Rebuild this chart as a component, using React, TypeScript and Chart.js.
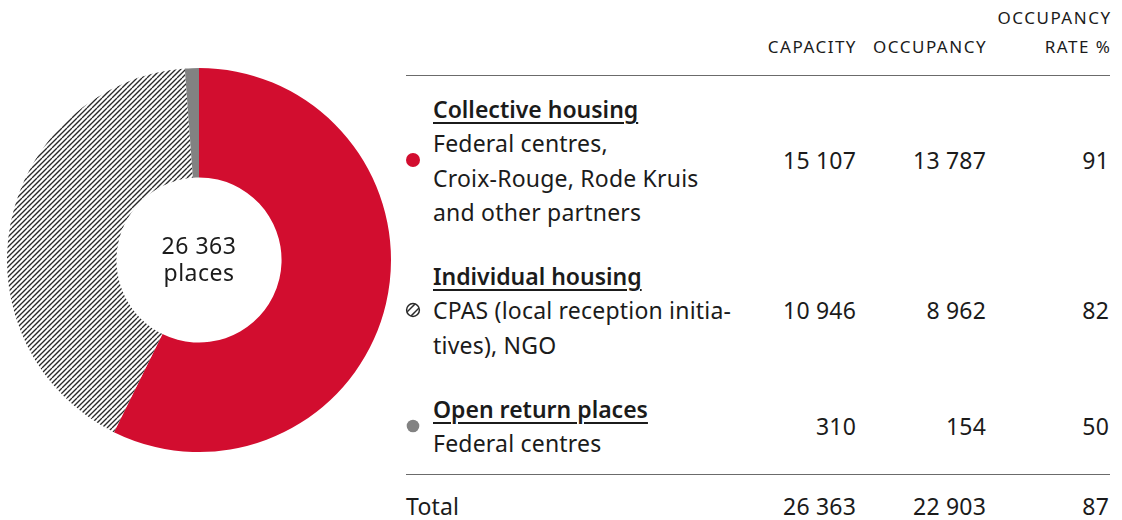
import React, { useEffect, useRef } from "react";
import { Chart, registerables } from "chart.js";

Chart.register(...registerables);

const categories = ["Collective housing", "Individual housing", "Open return places"];
const descriptions = [
  ["Federal centres,", "Croix-Rouge, Rode Kruis", "and other partners"],
  ["CPAS (local reception initia-", "tives), NGO"],
  ["Federal centres"],
];
const capacity = [15107, 10946, 310];
const occupancy = [13787, 8962, 154];
const occupancyRate = [91, 82, 50];
const totalLabel = "Total";
const totalCapacity = 26363;
const totalOccupancy = 22903;
const totalRate = 87;
const headerCapacity = ["CAPACITY"];
const headerOccupancy = ["OCCUPANCY"];
const headerRate = ["OCCUPANCY", "RATE %"];
const centerLabel = ["26 363", "places"];

const RED = "#D20D2F";
const GREY = "#828282";
const TEXT = "#1b1b1b";
const FONT = "'Noto Sans', Lato, sans-serif";

const fmt = (n: number) => String(n).replace(/\B(?=(\d{3})+(?!\d))/g, " ");

function makeHatch(): CanvasPattern | string {
  const c = document.createElement("canvas");
  c.width = 10;
  c.height = 10;
  const g = c.getContext("2d");
  if (!g) return "#888";
  g.fillStyle = "#ffffff";
  g.fillRect(0, 0, 10, 10);
  g.strokeStyle = "#2a2a2a";
  g.lineWidth = 1.3;
  for (let o = -15; o <= 20; o += 5) {
    g.beginPath();
    g.moveTo(o, 10);
    g.lineTo(o + 10, 0);
    g.stroke();
  }
  const p = g.createPattern(c, "repeat");
  return p || "#888";
}

const LINE = 34.3;
const titleY = [109, 276, 409];

const abs = (x: number, y: number, extra: React.CSSProperties = {}): React.CSSProperties => ({
  position: "absolute",
  left: x,
  top: y - 15,
  height: 30,
  lineHeight: "30px",
  whiteSpace: "nowrap",
  ...extra,
});

const rightAt = (xRight: number, y: number, extra: React.CSSProperties = {}): React.CSSProperties => ({
  position: "absolute",
  right: 1122 - xRight,
  top: y - 15,
  height: 30,
  lineHeight: "30px",
  whiteSpace: "nowrap",
  textAlign: "right",
  ...extra,
});

function Bullet({ kind, y }: { kind: number; y: number }) {
  const size = 16;
  const style: React.CSSProperties = { position: "absolute", left: 413 - size / 2, top: y - size / 2, width: size, height: size };
  if (kind === 0) {
    return (
      <svg style={style} width={size} height={size}>
        <circle cx={8} cy={8} r={7} fill={RED} />
      </svg>
    );
  }
  if (kind === 2) {
    return (
      <svg style={style} width={size} height={size}>
        <circle cx={8} cy={8} r={6.3} fill={GREY} />
      </svg>
    );
  }
  return (
    <svg style={style} width={size} height={size}>
      <defs>
        <clipPath id="hc">
          <circle cx={8} cy={8} r={6.2} />
        </clipPath>
      </defs>
      <g clipPath="url(#hc)" stroke="#2a2a2a" strokeWidth={1.5}>
        <line x1={0} y1={12} x2={12} y2={0} />
        <line x1={4} y1={16} x2={16} y2={4} />
      </g>
      <circle cx={8} cy={8} r={6.4} fill="none" stroke="#2a2a2a" strokeWidth={1.5} />
    </svg>
  );
}

export default function App() {
  const ref = useRef<HTMLCanvasElement | null>(null);

  useEffect(() => {
    if (!ref.current) return;
    const chart = new Chart(ref.current, {
      type: "doughnut",
      data: {
        labels: categories,
        datasets: [
          {
            data: capacity,
            backgroundColor: [RED, makeHatch() as any, GREY],
            borderWidth: 0,
          },
        ],
      },
      options: {
        animation: false,
        responsive: false,
        maintainAspectRatio: false,
        cutout: "43%",
        layout: { padding: 0 },
        plugins: {
          legend: { display: false },
          tooltip: { enabled: false },
        },
      },
    });
    return () => chart.destroy();
  }, []);

  const numStyle: React.CSSProperties = { fontSize: 23, color: TEXT, letterSpacing: 0.2 };
  const headStyle: React.CSSProperties = { fontSize: 17, color: TEXT, letterSpacing: 1.5 };
  const bodyStyle: React.CSSProperties = { fontSize: 23, letterSpacing: 0.2 };

  return (
    <div style={{ position: "absolute", left: 0, top: 0, width: 1122, height: 520, background: "#fff", fontFamily: FONT, color: TEXT, overflow: "hidden" }}>
      <canvas ref={ref} width={384} height={384} style={{ position: "absolute", left: 7, top: 68, width: 384, height: 384 }} />
      <div style={{ position: "absolute", left: 99, width: 200, top: 232, textAlign: "center", fontSize: 23, letterSpacing: 0.5, lineHeight: "27px" }}>
        {centerLabel.map((t, i) => (
          <div key={i}>{t}</div>
        ))}
      </div>

      {headerRate.map((t, i) => (
        <div key={"hr" + i} style={rightAt(1110, 18 + i * 29, { ...headStyle, marginRight: -1.5 })}>{t}</div>
      ))}
      <div style={rightAt(857, 47, headStyle)}>{headerCapacity[0]}</div>
      <div style={rightAt(987, 47, headStyle)}>{headerOccupancy[0]}</div>

      <div style={{ position: "absolute", left: 406, top: 75, width: 704, height: 1, background: "#6b6b6b" }} />
      <div style={{ position: "absolute", left: 406, top: 474, width: 704, height: 1, background: "#6b6b6b" }} />

      {categories.map((cat, i) => {
        const ty = titleY[i];
        const lines = descriptions[i];
        const lastY = ty + lines.length * LINE;
        const midY = (ty + lastY) / 2;
        return (
          <React.Fragment key={cat}>
            <div style={abs(433, ty, { fontSize: 23, fontWeight: 600, textDecoration: "underline", textDecorationThickness: 2, textUnderlineOffset: 4 })}>{cat}</div>
            {lines.map((l, j) => (
              <div key={j} style={abs(433, ty + (j + 1) * LINE, bodyStyle)}>{l}</div>
            ))}
            <Bullet kind={i} y={midY} />
            <div style={rightAt(856, midY, numStyle)}>{fmt(capacity[i])}</div>
            <div style={rightAt(986, midY, numStyle)}>{fmt(occupancy[i])}</div>
            <div style={rightAt(1109, midY, numStyle)}>{fmt(occupancyRate[i])}</div>
          </React.Fragment>
        );
      })}

      <div style={abs(406, 506, bodyStyle)}>{totalLabel}</div>
      <div style={rightAt(856, 506, numStyle)}>{fmt(totalCapacity)}</div>
      <div style={rightAt(986, 506, numStyle)}>{fmt(totalOccupancy)}</div>
      <div style={rightAt(1109, 506, numStyle)}>{fmt(totalRate)}</div>
    </div>
  );
}
